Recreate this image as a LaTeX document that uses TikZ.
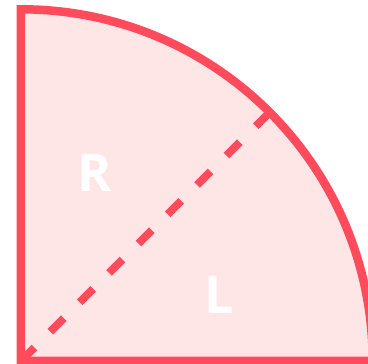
\documentclass[tikz,border=0pt]{standalone}
\usepackage{fontspec}
\setmainfont{Open Sans}
\usetikzlibrary{calc}
\definecolor{qred}{HTML}{FF4B5C}
\definecolor{qfill}{HTML}{FFE6E6}
\begin{document}
\begin{tikzpicture}[x=1pt,y=1pt,
  edge/.style={draw=qred,line width=8.5pt,line join=miter},
  dashline/.style={draw=qred,line width=8pt,dash pattern=on 19pt off 22.5pt},
  lbl/.style={text=white,font=\fontsize{52}{52}\selectfont\bfseries,inner sep=0pt,anchor=base}]
\useasboundingbox (0,0) rectangle (368,364);
\coordinate (O) at (21,3);
\coordinate (T) at (21,354.7);
\coordinate (E) at ($(O)+(45:351.7)$);
\begin{scope}
\clip (0,0) rectangle (368,364);
\path[edge,fill=qfill] (O) -- (T) arc[start angle=90,end angle=0,radius=351.7] -- cycle;
\draw[dashline] (O) -- (E);
\end{scope}
\node[lbl] (R) at (94.8,172.3) {R};
\node[lbl] (L) at (219.3,50) {L};
\end{tikzpicture}
\end{document}
